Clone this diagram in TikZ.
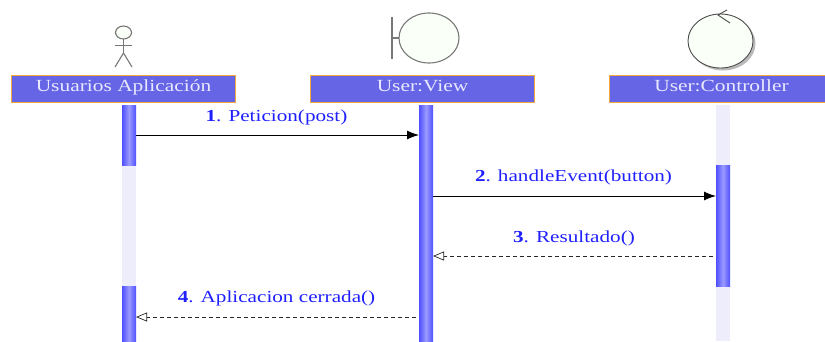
\documentclass[tikz,border=0pt]{standalone}
\usepackage{fontspec}
\setmainfont[FakeStretch=1.26]{Liberation Serif}
\usetikzlibrary{arrows.meta,positioning,shadows,shapes.geometric}
\definecolor{boxfill}{HTML}{6565E6}
\definecolor{boxline}{HTML}{F5A83C}
\definecolor{boxtext}{HTML}{E8E8FF}
\definecolor{barlight}{HTML}{EDEDFC}
\definecolor{baredge}{HTML}{4F4FFF}
\definecolor{barmid}{HTML}{9A9AFF}
\definecolor{msgblue}{HTML}{2020FF}
\definecolor{iconfill}{HTML}{FAFFF8}
\definecolor{icongray}{HTML}{777777}
\tikzset{
  x=1pt,y=-1pt,
  every node/.style={inner sep=0pt,outer sep=0pt},
  headbox/.style={draw=boxline,fill=boxfill,line width=1pt,minimum width=224pt,minimum height=27pt,text=boxtext,text height=12pt,text depth=8pt,font=\fontsize{17}{18}\selectfont},
  barlife/.style={fill=barlight,minimum width=14pt,anchor=north},
  baract/.style={left color=baredge,right color=baredge,middle color=barmid,minimum width=14pt,anchor=north},
  msg/.style={text=msgblue,anchor=base,font=\fontsize{16.8}{18}\selectfont},
  call/.style={draw=black,line width=0.9pt,-{Latex[length=12pt,width=9pt]}},
  reply/.style={draw=black!85,line width=0.8pt,dash pattern=on 4pt off 3pt,shorten <=3pt,-{Triangle[open,length=11pt,width=9pt,fill=white,line width=0.7pt]}},
  icon/.style={draw=icongray,line width=1.1pt},
}
\begin{document}
\begin{tikzpicture}
\useasboundingbox (0,0) rectangle (825,341);
% lifelines
\node[barlife,minimum height=236pt] (lifeA) at (129,105) {};
\node[barlife,minimum height=236pt] (lifeC) at (723,105) {};
\node[baract,minimum height=60pt] (actA1) at (129,105) {};
\node[baract,minimum height=55pt] (actA2) at (129,286) {};
\node[baract,minimum height=236pt] (actB) at (426,105) {};
\node[baract,minimum height=121pt] (actC) at (723,165) {};
% headers
\node[headbox] (hA) at (123.5,89) {Usuarios Aplicación};
\node[headbox] (hB) at (422.5,89) {User:View};
\begin{scope}
\clip (0,0) rectangle (825,341);
\node[headbox] (hC) at (721.5,89) {User:Controller};
\end{scope}
% actor icon
\node[icon,fill=iconfill,ellipse,minimum width=16pt,minimum height=13pt] (head) at (123.5,32.5) {};
\coordinate (hip) at (123.5,53);
\coordinate (armL) at (115,45.5);
\coordinate (armR) at (132,45.5);
\coordinate (legL) at (115,67);
\coordinate (legR) at (132,67);
\draw[icon] (head.south) -- (hip);
\draw[icon] (armL) -- (armR);
\draw[icon] (legL) -- (hip) -- (legR);
% boundary icon
\node[icon,fill=iconfill,ellipse,minimum width=60pt,minimum height=50pt] (bound) at (429,38) {};
\coordinate (bTop) at (392,17);
\coordinate (bBot) at (392,59);
\coordinate (bMid) at (392,38);
\draw[icon] (bTop) -- (bBot);
\draw[icon] (bMid) -- (bound.west);
% control icon
\node[draw=black!70,line width=0.9pt,fill=iconfill,ellipse,minimum width=65pt,minimum height=54pt,drop shadow={shadow xshift=2.5pt,shadow yshift=-2.5pt,fill=black!45,opacity=0.6}] (ctrl) at (720.5,41) {};
\coordinate (cTip) at (718,15);
\coordinate (cU) at (727,10);
\coordinate (cD) at (730,23);
\draw[draw=black!70,line width=0.9pt] (cU) -- (cTip) -- (cD);
% messages
\coordinate (y1) at (0,135);
\coordinate (y2) at (0,196);
\coordinate (y3) at (0,256);
\coordinate (y4) at (0,317);
\draw[call] (actA1.east |- y1) -- (actB.west |- y1);
\draw[call] (actB.east |- y2) -- (actC.west |- y2);
\draw[reply] (actC.west |- y3) -- (actB.east |- y3);
\draw[reply] (actB.west |- y4) -- (actA2.east |- y4);
\node[msg] (t1) at (276.5,121) {\textbf{1}. Peticion(post)};
\node[msg] (t2) at (573.5,181) {\textbf{2}. handleEvent(button)};
\node[msg] (t3) at (574,242) {\textbf{3}. Resultado()};
\node[msg] (t4) at (276.5,302.5) {\textbf{4}. Aplicacion cerrada()};
\end{tikzpicture}
\end{document}
